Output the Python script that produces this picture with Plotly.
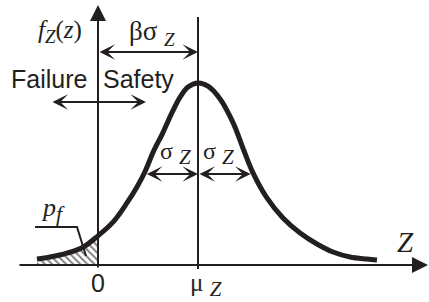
import plotly.graph_objects as go

# ---- data (z in units of sigma_Z, f = density) ----
z_vals = [-1.16, -0.91, -0.59, -0.285, 0.0, 0.285, 0.55, 0.74, 0.89, 1.05, 1.22, 1.41, 1.56, 1.71, 1.90,
          2.09, 2.32, 2.57, 2.755, 2.945, 3.21, 3.515, 3.84, 4.16, 4.465, 4.79, 5.11, 5.30]
f_vals = [0.013, 0.0175, 0.026, 0.039, 0.064, 0.094, 0.136, 0.171, 0.204, 0.248, 0.287, 0.335, 0.368, 0.390, 0.399,
          0.392, 0.364, 0.311, 0.256, 0.202, 0.147, 0.103, 0.070, 0.046, 0.0285, 0.0175, 0.013, 0.011]
mu_z = 1.9       # beta * sigma_Z
sigma_z = 1.0
zero_z = 0.0

INK = "#231f20"
SERIF = "Liberation Serif, Times New Roman, serif"
SANS = "Liberation Sans, Arial, sans-serif"

# pixel -> data helpers for placing decorations
SX = 52.63
SY = 456.2
def X(px):
    return (px - 98) / SX
def Y(py):
    return (265 - py) / SY

fail_z = [z for z in z_vals if z <= zero_z]
fail_f = [f for z, f in zip(z_vals, f_vals) if z <= zero_z]

fig = go.Figure()
fig.add_trace(go.Scatter(
    x=fail_z, y=fail_f, mode="lines", line=dict(width=0, shape="spline"),
    fill="tozeroy", fillcolor="rgba(0,0,0,0)",
    fillpattern=dict(shape="\\", fgcolor="black", bgcolor="rgba(0,0,0,0)", size=5, solidity=0.4),
    hoverinfo="skip", showlegend=False))
fig.add_trace(go.Scatter(
    x=z_vals, y=f_vals, mode="lines", line=dict(color=INK, width=5, shape="spline"),
    hoverinfo="skip", showlegend=False))

shapes = []
# mean line
shapes.append(dict(type="line", xref="x", yref="y", x0=mu_z, x1=mu_z, y0=Y(269), y1=Y(17),
                   line=dict(color=INK, width=2)))
# p_f leader
shapes.append(dict(type="path", xref="x", yref="y",
                   path=f"M{X(35)},{Y(227)} L{X(77)},{Y(227)} L{X(86)},{Y(256)}",
                   line=dict(color=INK, width=2)))

def arrow(x0, y0, x1, y1, head, size, width, side="end"):
    return dict(x=x1, y=y1, ax=x0, ay=y0, xref="x", yref="y", axref="x", ayref="y",
                text="", showarrow=True, arrowhead=head, startarrowhead=head,
                arrowsize=size, startarrowsize=size, arrowwidth=width,
                arrowcolor=INK, arrowside=side)

ann = []
# axes
ann.append(arrow(X(18), 0, X(428), 0, 2, 1.6, 2))
ann.append(arrow(zero_z, Y(269), zero_z, Y(5), 2, 1.6, 2))
# dimension arrows
ann.append(arrow(zero_z, Y(52), mu_z, Y(52), 3, 1.3, 2, "end+start"))
ann.append(arrow(X(51), Y(102), X(146), Y(102), 3, 1.3, 2, "end+start"))
ann.append(arrow(mu_z - sigma_z, Y(174), mu_z, Y(174), 3, 1.3, 2, "end+start"))
ann.append(arrow(mu_z, Y(174), mu_z + sigma_z, Y(174), 3, 1.3, 2, "end+start"))

def label(px, py, text, family, size, xanchor="center"):
    return dict(x=X(px), y=Y(py), xref="x", yref="y", text=text, showarrow=False,
                xanchor=xanchor, yanchor="middle", font=dict(family=family, size=size, color=INK))

def sub(t, size):
    return (f"<sub><span style='font-size:{size}px'>"
            f"<i>{t}</i></span></sub>")

ann.append(label(60, 31, "<i>f</i>" + sub("Z", 19) + "(<i>z</i>)", SERIF, 25))
ann.append(label(152, 33, "βσ " + sub("Z", 19), SERIF, 27))
ann.append(label(89, 79, "Failure", SANS, 25, "right"))
ann.append(label(101, 79, "Safety", SANS, 25, "left"))
ann.append(label(175, 153, "σ " + sub("Z", 21), SERIF, 24))
ann.append(label(218, 153, "σ " + sub("Z", 21), SERIF, 24))
ann.append(label(53, 209, "<i>p</i>" + sub("f", 22), SERIF, 26))
ann.append(label(98, 283, "0", SANS, 25))
ann.append(label(206, 285, "μ " + sub("Z", 21), SERIF, 25))
ann.append(label(405, 242, "<i>Z</i>", SERIF, 29))

fig.update_layout(
    width=429, height=302, margin=dict(l=0, r=0, t=0, b=0),
    paper_bgcolor="white", plot_bgcolor="white",
    xaxis=dict(visible=False, range=[X(0), X(429)], fixedrange=True),
    yaxis=dict(visible=False, range=[Y(302), Y(0)], fixedrange=True),
    shapes=shapes, annotations=ann, showlegend=False)

fig.write_html("out.html", config={"displayModeBar": False})
